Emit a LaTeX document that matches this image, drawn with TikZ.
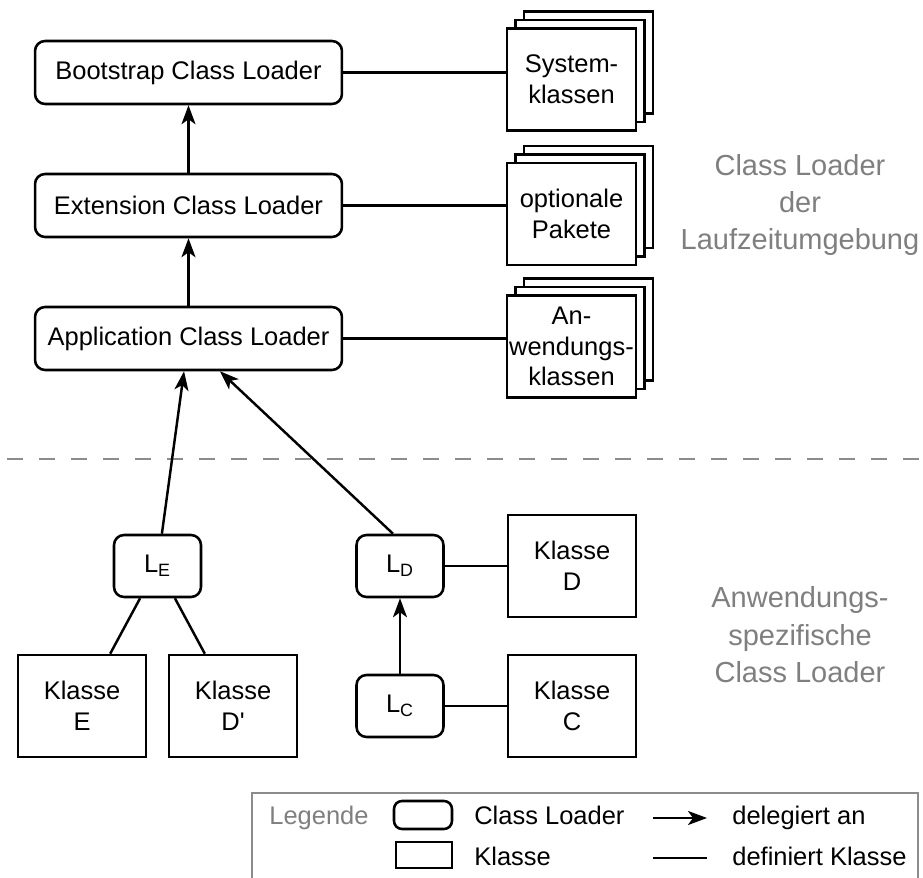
\documentclass[tikz,border=0pt]{standalone}
\usepackage{fontspec}
\setmainfont{Liberation Sans}
\usetikzlibrary{arrows.meta,positioning}

\definecolor{hinweisgrau}{HTML}{7F7F7F}
\definecolor{liniengrau}{HTML}{8C8C8C}

\tikzset{
	basisfont/.style={font=\fontsize{14.5}{17.4}\selectfont},
	loader/.style={draw, rounded corners=0.2cm, line width=1.45pt, fill=white, align=center, inner sep=0pt, basisfont},
	klasse/.style={draw, line width=1.45pt, fill=white, align=center, inner sep=0pt, minimum width=2.56cm, minimum height=2.04cm, basisfont},
	legtext/.style={basisfont, anchor=base west, inner sep=0pt},
	deleg/.style={line width=1.4pt, -{Stealth[length=0.38cm,width=0.28cm,inset=0.1cm]}},
	defin/.style={line width=1.4pt},
	hinweis/.style={text=hinweisgrau, align=center, font=\fontsize{16.5}{21.3}\selectfont},
}

\begin{document}
\begin{tikzpicture}[x=0.02cm, y=-0.02cm]
	\useasboundingbox (0,0) rectangle (923,878);
	
	%%%%% Class Loader der Laufzeitumgebung %%%%%
	\node[loader, minimum width=6.14cm, minimum height=1.26cm] (boot) at (188.5, 72.5) {Bootstrap Class Loader};
	\node[loader, minimum width=6.14cm, minimum height=1.26cm] (ext) at (188.5, 205.5) {Extension Class Loader};
	\node[loader, minimum width=6.14cm, minimum height=1.26cm] (app) at (188.5, 338.5) {Application Class Loader};
	
	\draw[deleg] (ext) -- (boot);
	\draw[deleg] (app) -- (ext);
	
	% gestapelte Klassen
	\node[klasse, minimum width=2.58cm] (sys3) at (588.5, 62.5) {};
	\node[klasse, minimum width=2.58cm] (sys2) at (580, 71) {};
	\node[klasse, minimum width=2.58cm] (sys) at (571.5, 79.5) {System-\\klassen};
	
	\node[klasse, minimum width=2.58cm] (opt3) at (588.5, 197) {};
	\node[klasse, minimum width=2.58cm] (opt2) at (580, 205.5) {};
	\node[klasse, minimum width=2.58cm] (opt) at (571.5, 214) {optionale\\Pakete};
	
	\node[klasse, minimum width=2.58cm] (anw3) at (588.5, 329.5) {};
	\node[klasse, minimum width=2.58cm] (anw2) at (580, 338) {};
	\node[klasse, minimum width=2.58cm] (anw) at (571.5, 346.5) {An-\\wendungs-\\klassen};
	
	\draw[defin] (boot.east) -- (boot.east -| sys.west);
	\draw[defin] (ext.east) -- (ext.east -| opt.west);
	\draw[defin] (app.east) -- (app.east -| anw.west);
	
	\node[hinweis] (lzu) at (800, 205) {Class Loader\\der\\Laufzeitumgebung};
	
	\draw[liniengrau, line width=0.05cm, dash pattern=on 0.32cm off 0.32cm] (7, 459) -- (923, 459);
	
	%%%%% Anwendungsspezifische Class Loader %%%%%
	\node[loader, minimum width=1.74cm, minimum height=1.24cm] (le) at (157.5, 566) {L\textsubscript{E}};
	\node[loader, minimum width=1.74cm, minimum height=1.24cm] (ld) at (400, 566) {L\textsubscript{D}};
	\node[loader, minimum width=1.74cm, minimum height=1.24cm] (lc) at (400, 706) {L\textsubscript{C}};
	
	\node[klasse] (ke) at (82, 706) {Klasse\\E};
	\node[klasse] (kdd) at (233, 706) {Klasse\\D\textquotesingle};
	\node[klasse] (kd) at (572, 566) {Klasse\\D};
	\node[klasse] (kc) at (572, 706) {Klasse\\C};
	
	\draw[deleg] (le) -- (app);
	\draw[deleg] ([xshift=-0.14cm]ld.north) -- ([xshift=0.63cm]app.south);
	\draw[deleg] (lc) -- (ld);
	
	\draw[defin] (le) -- (ke);
	\draw[defin] (le) -- (kdd);
	\draw[defin] (ld) -- (kd);
	\draw[defin] (lc) -- (kc);
	
	\node[hinweis] (asc) at (800, 635) {Anwendungs-\\spezifische\\Class Loader};
	
	%%%%% Legende %%%%%
	\draw[liniengrau, line width=1.3pt] (252, 880) -- (252, 793) -- (918, 793) -- (918, 880);
	
	\node[legtext, text=hinweisgrau] (leg) at (269, 824) {Legende};
	\node[loader, minimum width=1.16cm, minimum height=0.56cm, rounded corners=0.16cm] (legcl) at (423, 815) {};
	\node[legtext] (legcltxt) at (474, 824) {Class Loader};
	\coordinate (pa) at (653, 818);
	\coordinate (pb) at (707, 818);
	\draw[deleg] (pa) -- (pb);
	\node[legtext] (legdel) at (732, 824) {delegiert an};
	
	\node[klasse, minimum width=1.12cm, minimum height=0.52cm] (legkl) at (424, 855) {};
	\node[legtext] (legkltxt) at (474, 865) {Klasse};
	\coordinate (qa) at (653, 858);
	\coordinate (qb) at (707, 858);
	\draw[defin] (qa) -- (qb);
	\node[legtext] (legdef) at (732, 865) {definiert Klasse};
\end{tikzpicture}
\end{document}
